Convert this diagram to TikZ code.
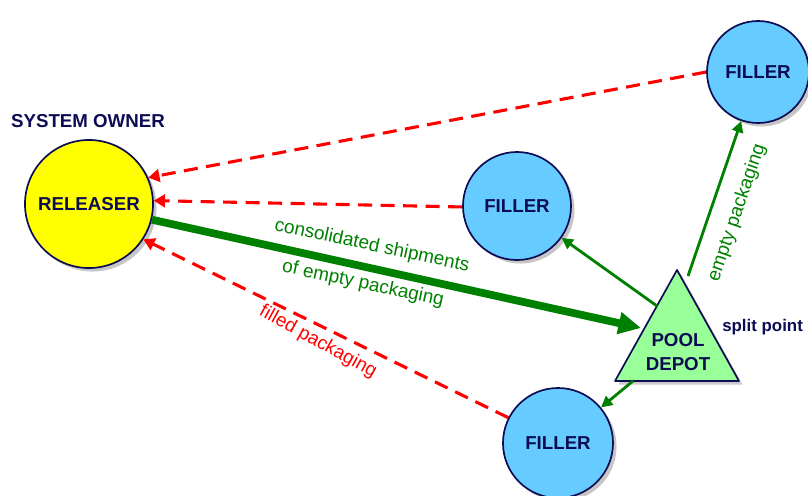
\documentclass[tikz,border=0pt]{standalone}
\usepackage{fontspec}
\setmainfont{Liberation Sans}
\usetikzlibrary{arrows.meta,shadows}
\definecolor{navy}{RGB}{12,12,84}
\definecolor{fillblue}{RGB}{102,204,255}
\definecolor{relyellow}{RGB}{255,255,0}
\definecolor{depotgreen}{RGB}{153,255,153}
\definecolor{flowgreen}{RGB}{0,128,0}
\definecolor{flowred}{RGB}{255,0,0}
\begin{document}
\begin{tikzpicture}[x=0.025cm,y=-0.025cm,
  party/.style={circle,draw=navy,line width=1.2pt,text=navy,
    font=\fontsize{13.3}{15}\selectfont\bfseries,inner sep=0pt,
    drop shadow={opacity=0.45,shadow xshift=2.5pt,shadow yshift=-2.5pt}},
  fillernode/.style={party,fill=fillblue},
  returnflow/.style={draw=flowred,line width=2.2pt,dash pattern=on 10pt off 6pt,
    -{Triangle[length=8pt,width=9pt]}},
  supplyflow/.style={draw=flowgreen,line width=2pt,-{Triangle[length=8pt,width=8pt]}},
  mainflow/.style={draw=flowgreen,line width=5.5pt,-{Triangle[length=16pt,width=15pt]}},
  greenlabel/.style={text=flowgreen,font=\fontsize{13.5}{15}\selectfont,inner sep=0pt},
  redlabel/.style={text=flowred,font=\fontsize{13.5}{15}\selectfont,inner sep=0pt},
  tag/.style={text=navy,font=\fontsize{13.3}{15}\selectfont\bfseries,inner sep=0pt}]
\useasboundingbox (0,0) rectangle (808,495);

% parties
\node[party,fill=relyellow,minimum size=3.2cm] (rel) at (89,204) {RELEASER};
\node[fillernode,minimum size=2.55cm] (top) at (758,72) {FILLER};
\node[fillernode,minimum size=2.7cm] (mid) at (517,206) {FILLER};
\node[fillernode,minimum size=2.75cm] (bot) at (558,443) {FILLER};

\node[tag] (owner) at (88,121) {SYSTEM OWNER};

% pool depot triangle
\coordinate (apex) at (677,270);
\coordinate (bl) at (615,381);
\coordinate (br) at (739,381);
\fill[black!45,opacity=0.45] ([xshift=2.5pt,yshift=-2.5pt]apex) -- ([xshift=2.5pt,yshift=-2.5pt]bl) -- ([xshift=2.5pt,yshift=-2.5pt]br) -- cycle;
\draw[navy,line width=1.2pt,fill=depotgreen,line join=round] (apex) -- (bl) -- (br) -- cycle;
\node[text=navy,font=\fontsize{13.3}{15}\selectfont\bfseries,align=center,inner sep=0pt] (depot) at (678,352) {POOL\\[2pt]DEPOT};
\node[tag,anchor=west,font=\fontsize{12}{14}\selectfont\bfseries] (split) at (722,327) {split point};

% anchor points on the triangle edges
\coordinate (tin) at (641,328);
\coordinate (tleft) at (657,306);
\coordinate (tright) at (688,276);
\coordinate (tbase) at (633,381);

% returns of filled packaging
\draw[returnflow] (top.180) -- (rel.24);
\draw[returnflow] (mid.181) -- (rel.3);
\draw[returnflow] (bot.153) -- (rel.-33);

% empty packaging flows
\draw[mainflow] (rel.-14) -- (tin);
\draw[supplyflow] (tleft) -- (mid);
\draw[supplyflow] (tright) -- (top);
\draw[supplyflow] (tbase) -- (bot);

% labels
\node[greenlabel,rotate=-12] (l1) at (372,246) {consolidated shipments};
\node[greenlabel,rotate=-12] (l2) at (363,284) {of empty packaging};
\node[redlabel,rotate=-29] (l3) at (318,342) {filled packaging};
\node[greenlabel,rotate=71] (l4) at (737,213) {empty packaging};
\end{tikzpicture}
\end{document}
